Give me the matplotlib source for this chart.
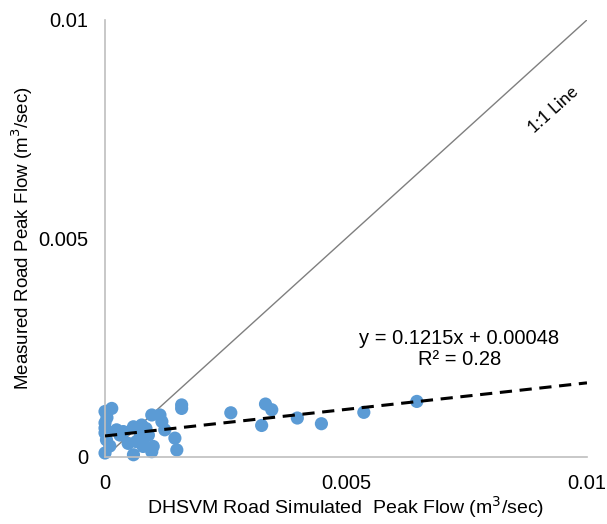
import matplotlib
matplotlib.use("Agg")
import matplotlib.pyplot as plt
import numpy as np

# Data (m^3/sec)
sim_flow = [0.0, 0.0, 0.0, 0.0, 0.00003, 0.0, 0.00014, 0.00024, 0.00031, 0.00038,
            0.00048, 0.00059, 0.00059, 0.00073, 0.00076, 0.00079, 0.00079, 0.0009,
            0.00097, 0.00097, 0.001, 0.00114, 0.00118, 0.00124, 0.00145, 0.00149,
            0.00159, 0.00159, 0.00004, 0.0001, 0.00065, 0.00085,
            0.00261, 0.00333, 0.00346, 0.00325, 0.00399, 0.00449, 0.00537, 0.00647]
meas_flow = [0.00104, 0.00078, 0.00066, 0.00009, 0.00039, 0.00055, 0.00111, 0.00062, 0.0005, 0.00058,
             0.00031, 0.00069, 0.00005, 0.00046, 0.00073, 0.00024, 0.0004, 0.0005,
             0.00096, 0.00012, 0.00024, 0.00096, 0.00081, 0.00062, 0.00043, 0.00016,
             0.00119, 0.00111, 0.0009, 0.00025, 0.00035, 0.00065,
             0.00101, 0.00121, 0.00108, 0.00072, 0.00089, 0.00076, 0.00102, 0.00127]
slope = 0.1215
intercept = 0.00048
axis_ticks = [0, 0.005, 0.01]
tick_labels = ["0", "0.005", "0.01"]

fig = plt.figure(figsize=(6.07, 5.24), dpi=100)
ax = fig.add_axes([0.173, 0.128, 0.794, 0.834])

ax.plot([0, 0.01], [0, 0.01], color="#7f7f7f", lw=1.0, zorder=1)
ax.scatter(sim_flow, meas_flow, s=90, color="#5b9bd5", edgecolors="none",
           zorder=2, clip_on=False)
xs = np.array([0, 0.01])
ax.plot(xs, slope * xs + intercept, color="black", lw=2.2, ls=(0, (4, 2.5)), zorder=3)

ax.set_xlim(0, 0.01)
ax.set_ylim(0, 0.01)
ax.set_xticks(axis_ticks)
ax.set_xticklabels(tick_labels)
ax.set_yticks(axis_ticks)
ax.set_yticklabels(tick_labels)
ax.tick_params(length=0, labelsize=14.5, colors="black")
ax.tick_params(axis="y", pad=12)
ax.tick_params(axis="x", pad=12)
for s in ["top", "right"]:
    ax.spines[s].set_visible(False)
for s in ["left", "bottom"]:
    ax.spines[s].set_color("#bfbfbf")
    ax.spines[s].set_linewidth(1.2)

for lab in ax.get_xticklabels() + ax.get_yticklabels():
    lab.set_family("Liberation Sans")

ax.set_xlabel("DHSVM Road Simulated  Peak Flow (m$^3$/sec)", fontsize=14,
              family="Liberation Sans", va="center")
ax.set_ylabel("Measured Road Peak Flow (m$^3$/sec)", fontsize=13.5,
              family="Liberation Sans", va="center")
ax.xaxis.set_label_coords(0.5, -0.114)
ax.yaxis.set_label_coords(-0.172, 0.5)

ax.text(0.0093, 0.00794, "1:1 Line", rotation=42, fontsize=12.5, family="Lato",
        ha="center", va="center")
ax.text(0.00735, 0.00247, "y = 0.1215x + 0.00048\nR² = 0.28", fontsize=14.5,
        family="Liberation Sans", ha="center", va="center", linespacing=1.1)

fig.savefig("out.png", dpi=100)
